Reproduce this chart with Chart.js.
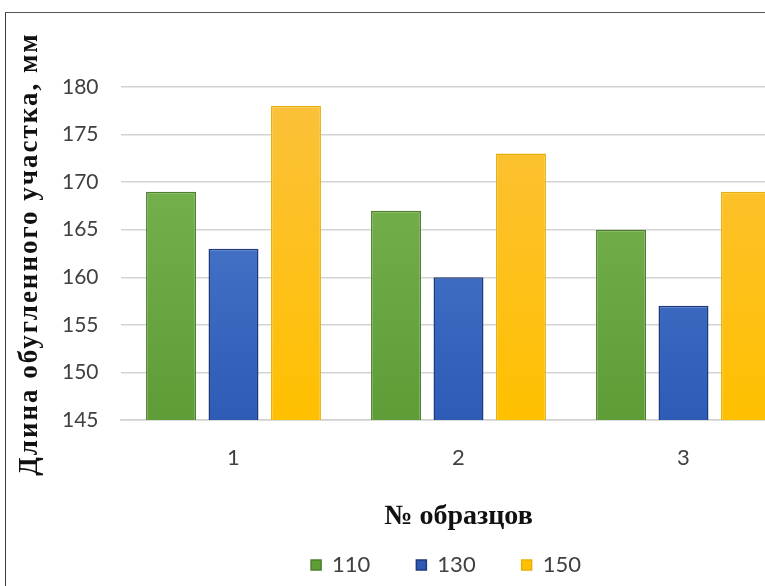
<!DOCTYPE html>
<html><head><meta charset="utf-8">
<script src="https://cdn.jsdelivr.net/npm/chart.js@4.4.0/dist/chart.umd.min.js"></script>
<style>
html,body{margin:0;padding:0;background:#fff;overflow:hidden;width:765px;height:586px;}
#wrap{position:absolute;left:0;top:0;width:800px;height:586px;}
#bl{position:absolute;left:5px;top:12px;width:1px;height:580px;background:#3a3a3a;}
#bt{position:absolute;left:5px;top:12px;width:770px;height:1px;background:#555;}
</style></head>
<body>
<div id="wrap"><canvas id="c" width="800" height="586"></canvas></div>
<div id="bl"></div><div id="bt"></div>
<script>
const categories = ['1', '2', '3'];
const seriesNames = ['110', '130', '150'];
const values110 = [169, 167, 165];
const values130 = [163, 160, 157];
const values150 = [178, 173, 169];
const yMin = 145, yMax = 180, yStep = 5;
const yTitle = 'Длина обугленного участка, мм';
const xTitle = '№ образцов';

function grad(top, bottom, fallback) {
  return (ctx) => {
    const ch = ctx.chart; const a = ch.chartArea;
    if (!a) return fallback;
    const g = ch.ctx.createLinearGradient(0, a.top, 0, a.bottom);
    g.addColorStop(0, top); g.addColorStop(1, bottom);
    return g;
  };
}

const yTitlePlugin = {
  id: 'yTitlePlugin',
  afterDraw(chart) {
    const ctx = chart.ctx;
    ctx.save();
    ctx.translate(30, 254);
    ctx.rotate(-Math.PI / 2);
    ctx.font = 'bold 27px "Liberation Serif"';
    if ('letterSpacing' in ctx) ctx.letterSpacing = '2px';
    ctx.fillStyle = '#111';
    ctx.textAlign = 'center';
    ctx.textBaseline = 'middle';
    ctx.fillText(yTitle, 0, 0);
    ctx.restore();
  }
};

const common = { categoryPercentage: 0.833, barPercentage: 0.8, borderWidth: 1.5, borderSkipped: false };

new Chart(document.getElementById('c'), {
  type: 'bar',
  data: {
    labels: categories,
    datasets: [
      Object.assign({ label: seriesNames[0], data: values110,
        backgroundColor: grad('#7db957', '#5e9c36', '#70ad47'), borderColor: '#4d7f2f' }, common),
      Object.assign({ label: seriesNames[1], data: values130,
        backgroundColor: grad('#5583d2', '#2d5bb6', '#4472c4'), borderColor: '#1f3a7a' }, common),
      Object.assign({ label: seriesNames[2], data: values150,
        backgroundColor: grad('#fbc13c', '#ffc000', '#ffc000'), borderColor: '#e8b10a' }, common)
    ]
  },
  options: {
    responsive: false,
    animation: false,
    layout: { padding: { top: 87, right: 4, bottom: 0, left: 96 } },
    scales: {
      x: {
        grid: { display: false, drawTicks: false },
        border: { display: true, color: '#d0d0d0', width: 1.5 },
        ticks: { padding: 25, color: '#404040', font: { family: 'Lato', size: 22 } },
        title: { display: true, text: xTitle, color: '#111',
          font: { family: 'Liberation Serif', size: 28, weight: 'bold' }, padding: { top: 0, bottom: -26 } },
        afterFit(s) { s.height = 88; }
      },
      y: {
        min: yMin, max: yMax,
        grid: { color: '#d4d4d4', lineWidth: 1.5, drawTicks: false },
        border: { display: false },
        ticks: { stepSize: yStep, mirror: true, padding: -59, color: '#404040', font: { family: 'Lato', size: 21 } },
        afterFit(s) { s.width = 25; }
      }
    },
    plugins: {
      legend: {
        position: 'bottom',
        labels: { boxWidth: 10, boxHeight: 10, padding: 46, color: '#404040',
          font: { family: 'Lato', size: 22 } }
      },
      tooltip: { enabled: false }
    }
  },
  plugins: [yTitlePlugin]
});
</script>
</body></html>
